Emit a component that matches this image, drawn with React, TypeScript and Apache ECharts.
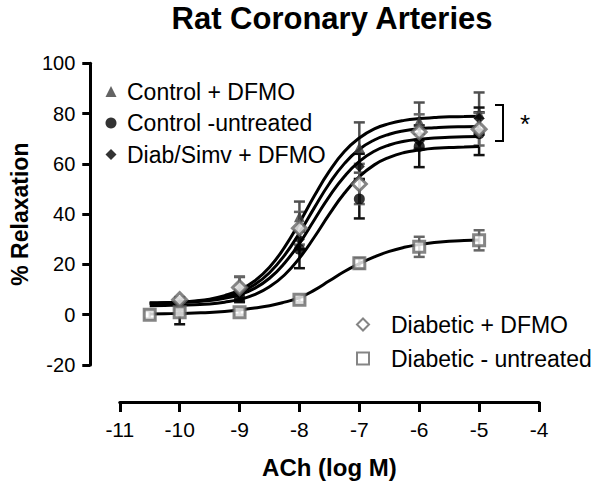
import React, { useEffect, useRef } from "react";
import * as echarts from "echarts";

const FONT = "'Liberation Sans', Arial, Helvetica, sans-serif";

// Fitted curves
const curveX = [-10.5, -10.25, -10, -9.75, -9.5, -9.25, -9, -8.75, -8.5, -8.25, -8, -7.75, -7.5, -7.25, -7, -6.75, -6.5, -6.25, -6, -5.75, -5.5, -5.25, -5];
const curve1 = [4.7, 4.8, 5.1, 5.5, 6.2, 7.6, 9.8, 13.4, 18.9, 26.8, 36.6, 47.3, 57.1, 64.9, 70.3, 73.9, 76.0, 77.3, 78.0, 78.4, 78.7, 78.8, 78.9];
const curve2 = [4.7, 4.8, 5.0, 5.3, 5.9, 7.0, 8.9, 11.9, 16.7, 23.6, 32.5, 42.6, 52.2, 60.1, 65.8, 69.5, 71.8, 73.2, 74.0, 74.4, 74.7, 74.8, 74.9];
const curve3 = [4.6, 4.7, 4.9, 5.2, 5.7, 6.5, 8.0, 10.5, 14.5, 20.5, 28.4, 37.8, 47.1, 55.0, 61.0, 65.0, 67.5, 69.0, 69.8, 70.3, 70.6, 70.8, 70.9];
const curve4 = [3.6, 3.7, 3.8, 4.0, 4.3, 5.0, 6.1, 8.0, 11.1, 15.8, 22.5, 30.9, 40.0, 48.3, 54.9, 59.6, 62.6, 64.5, 65.5, 66.2, 66.5, 66.7, 66.9];
const curve5 = [0.3, 0.4, 0.5, 0.7, 0.9, 1.3, 1.9, 2.7, 3.6, 5.0, 6.8, 9.8, 13.5, 17.2, 20.3, 23.0, 25.2, 26.8, 27.9, 28.7, 29.2, 29.5, 29.7];

// Measured points (mean, SEM)
const doseX = [-10, -9, -8, -7, -6, -5];
const ctrlDfmo = [4.5, 12, 39, 66.5, 77, 80];
const ctrlDfmoErr = [1.5, 3, 6, 10, 7.4, 8.4];
const ctrlUntr = [1.5, 7, 26, 46, 67, 72];
const ctrlUntrErr = [5.3, 2, 7.5, 7.7, 8.3, 8.5];
const simvDfmo = [4, 8, 30, 59, 69, 78];
const simvDfmoErr = [1, 2, 4, 5, 3, 4.4];
const diabDfmo = [6, 10.8, 34.4, 52, 72.7, 73.8];
const diabDfmoErr = [1, 4.4, 6.5, 8, 7, 6.5];
const diabUntrX = [-10.5, -10, -9, -8, -7, -6, -5];
const diabUntr = [0, 1, 1, 6, 20.5, 27, 29.6];
const diabUntrErr = [1.5, 1, 1, 1, 2, 4, 4];

const legendLeft = ["Control + DFMO", "Control -untreated", "Diab/Simv + DFMO"];
const legendRight = ["Diabetic + DFMO", "Diabetic - untreated"];

const pairs = (xs: number[], ys: number[]) => xs.map((x, i) => [x, ys[i]]);
const triples = (xs: number[], ys: number[], es: number[]) => xs.map((x, i) => [x, ys[i], es[i]]);

function errSeries(name: string, data: number[][], color: string) {
  return {
    type: "custom",
    name,
    z: 3,
    encode: { x: 0, y: 1 },
    data,
    renderItem: (params: any, api: any) => {
      const x = api.value(0);
      const y = api.value(1);
      const e = api.value(2);
      const p = api.coord([x, y + e]);
      const q = api.coord([x, y - e]);
      const hw = 5.5;
      const st = { stroke: color, lineWidth: 2.5 };
      return {
        type: "group",
        children: [
          { type: "line", shape: { x1: p[0], y1: p[1], x2: q[0], y2: q[1] }, style: st },
          { type: "line", shape: { x1: p[0] - hw, y1: p[1], x2: p[0] + hw, y2: p[1] }, style: st },
          { type: "line", shape: { x1: q[0] - hw, y1: q[1], x2: q[0] + hw, y2: q[1] }, style: st },
        ],
      };
    },
  };
}

function curveSeries(name: string, ys: number[]) {
  return {
    type: "line",
    name,
    data: pairs(curveX, ys),
    smooth: true,
    showSymbol: false,
    symbol: "none",
    z: 4,
    lineStyle: { color: "#000", width: 3 },
  };
}

export default function App() {
  const ref = useRef<HTMLDivElement>(null);
  useEffect(() => {
    if (!ref.current) return;
    const chart = echarts.init(ref.current, undefined, { renderer: "svg" });
    chart.setOption({
      animation: false,
      backgroundColor: "#fff",
      grid: { left: 114.5, right: 61, top: 63.3, bottom: 125 },
      xAxis: {
        type: "value",
        min: -11,
        max: -4,
        interval: 1,
        offset: 37,
        name: "ACh (log M)",
        nameLocation: "middle",
        nameGap: 53,
        nameTextStyle: { fontFamily: FONT, fontSize: 24, fontWeight: "bold", color: "#000" },
        axisLine: { onZero: false, lineStyle: { color: "#000", width: 3 } },
        axisTick: { length: 10, lineStyle: { color: "#000", width: 3 } },
        axisLabel: { fontFamily: FONT, fontSize: 21, color: "#000", margin: 17 },
        splitLine: { show: false },
      },
      yAxis: {
        type: "value",
        min: -20,
        max: 100,
        interval: 20,
        offset: 29.5,
        name: "% Relaxation",
        nameLocation: "middle",
        nameGap: 53,
        nameTextStyle: { fontFamily: FONT, fontSize: 23, fontWeight: "bold", color: "#000" },
        axisLine: { onZero: false, lineStyle: { color: "#000", width: 3 } },
        axisTick: { length: 8, lineStyle: { color: "#000", width: 3 } },
        axisLabel: { fontFamily: FONT, fontSize: 20, color: "#000", margin: 15 },
        splitLine: { show: false },
      },
      legend: [
        {
          data: legendLeft,
          orient: "vertical",
          left: 100.5,
          top: 75,
          itemWidth: 11,
          itemHeight: 11,
          itemGap: 8.5,
          selectedMode: false,
          textStyle: { fontFamily: FONT, fontSize: 23, color: "#000", padding: [0, 0, 0, 5.5] },
        },
        {
          data: legendRight,
          orient: "vertical",
          left: 351,
          top: 308,
          itemWidth: 12,
          itemHeight: 12,
          itemGap: 11,
          selectedMode: false,
          textStyle: { fontFamily: FONT, fontSize: 23, color: "#000", padding: [0, 0, 0, 17] },
        },
      ],
      graphic: [
        {
          type: "text",
          x: 332,
          y: 18,
          style: {
            text: "Rat Coronary Arteries",
            textAlign: "center",
            textVerticalAlign: "middle",
            fontFamily: FONT,
            fontSize: 31,
            fontWeight: "bold",
            fill: "#000",
          },
        },
        {
          type: "polyline",
          shape: { points: [[495, 105], [503, 105], [503, 141], [495, 141]] },
          style: { stroke: "#000", lineWidth: 2, fill: "none" },
        },
        {
          type: "text",
          x: 525,
          y: 124,
          style: {
            text: "*",
            textAlign: "center",
            textVerticalAlign: "middle",
            fontFamily: FONT,
            fontSize: 26,
            fill: "#000",
          },
        },
      ],
      series: [
        curveSeries("fit1", curve1),
        curveSeries("fit2", curve2),
        curveSeries("fit3", curve3),
        curveSeries("fit4", curve4),
        curveSeries("fit5", curve5),
        errSeries("err1", triples(doseX, ctrlDfmo, ctrlDfmoErr), "#505050"),
        errSeries("err2", triples(doseX, ctrlUntr, ctrlUntrErr), "#111"),
        errSeries("err3", triples(doseX, simvDfmo, simvDfmoErr), "#111"),
        errSeries("err4", triples(doseX, diabDfmo, diabDfmoErr), "#666"),
        errSeries("err5", triples(diabUntrX, diabUntr, diabUntrErr), "#666"),
        {
          type: "scatter",
          name: legendLeft[0],
          data: pairs(doseX, ctrlDfmo),
          symbol: "triangle",
          symbolSize: 11,
          z: 5,
          itemStyle: { color: "#3c3c3c" },
        },
        {
          type: "scatter",
          name: legendLeft[1],
          data: pairs(doseX, ctrlUntr),
          symbol: "circle",
          symbolSize: 11,
          z: 5,
          itemStyle: { color: "#000" },
        },
        {
          type: "scatter",
          name: legendLeft[2],
          data: pairs(doseX, simvDfmo),
          symbol: "diamond",
          symbolSize: 11,
          z: 5,
          itemStyle: { color: "#000" },
        },
        {
          type: "scatter",
          name: legendRight[0],
          data: pairs(doseX, diabDfmo),
          symbol: "diamond",
          symbolSize: 14,
          z: 6,
          itemStyle: { color: "#fff", borderColor: "#666", borderWidth: 3 },
        },
        {
          type: "scatter",
          name: legendRight[1],
          data: pairs(diabUntrX, diabUntr),
          symbol: "rect",
          symbolSize: 11,
          z: 6,
          itemStyle: { color: "#fff", borderColor: "#666", borderWidth: 3 },
        },
      ],
    });
    return () => chart.dispose();
  }, []);
  return <div ref={ref} style={{ position: "absolute", left: 0, top: 0, width: 600, height: 490 }} />;
}
